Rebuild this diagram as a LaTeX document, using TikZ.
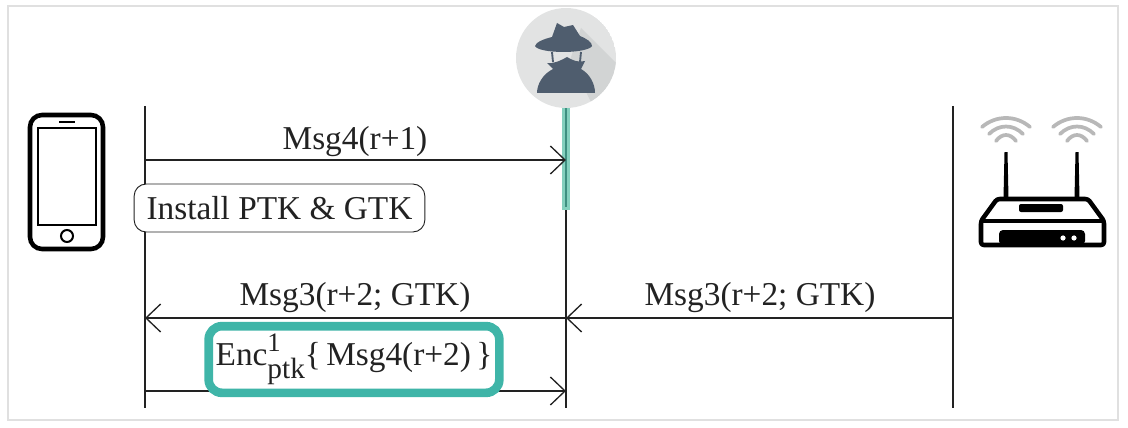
\documentclass[tikz,border=0pt]{standalone}
\usepackage{fontspec}
\setmainfont{Liberation Serif}
\usetikzlibrary{arrows.meta}
\definecolor{inkdark}{HTML}{222222}
\definecolor{tealbox}{HTML}{3FB5A8}
\definecolor{tealbar}{HTML}{84D0BE}
\definecolor{tealcore}{HTML}{3E8F80}
\definecolor{spyslate}{HTML}{4F5D6E}
\definecolor{spydisc}{HTML}{E2E3E3}
\definecolor{spyshade}{HTML}{D2D4D4}
\definecolor{wifigray}{HTML}{B8B8B8}
\begin{document}
\begin{tikzpicture}[x=0.75pt,y=-0.75pt,
	msg/.style={font=\fontsize{25}{30}\selectfont, text=inkdark, inner sep=0pt},
	life/.style={draw=inkdark, line width=1.6pt},
	flow/.style={draw=inkdark, line width=1.4pt, -{Straight Barb[length=11pt,width=21pt,line width=1pt]}},
	state/.style={msg, draw=inkdark, fill=white, line width=0.7pt, rounded corners=9pt, minimum width=218pt, minimum height=36pt},
	enc/.style={msg, draw=tealbox, fill=white, line width=6.5pt, rounded corners=10pt, minimum width=218pt, minimum height=50pt},
	>=latex]
	\useasboundingbox (0,0) rectangle (1128,428);
	\draw[draw=black!12, line width=1.2pt] (8,6) rectangle (1118,420);

	% lifelines
	\coordinate (phonetop) at (145,106);
	\coordinate (phoneend) at (145,408);
	\coordinate (spytop) at (566,108);
	\coordinate (spymid) at (566,207);
	\coordinate (spyend) at (566,408);
	\coordinate (aptop) at (953,106);
	\coordinate (apend) at (953,408);
	\draw[life] (phonetop) -- (phoneend);
	\draw[life] (aptop) -- (apend);
	\draw[life, line width=2.2pt] (spymid) -- (spyend);
	\fill[tealbar] (562,108) rectangle (570,210);
	\draw[draw=tealcore, line width=2.2pt] (spytop) -- (spymid);

	% messages
	\coordinate (phonea) at (145,160);
	\coordinate (spya) at (566,160);
	\coordinate (phoneb) at (145,318);
	\coordinate (spyb) at (566,318);
	\coordinate (apb) at (953,318);
	\coordinate (phonec) at (145,391);
	\coordinate (spyc) at (566,391);
	\draw[flow] (phonea) -- (spya);
	\draw[flow] (spyb) -- (phoneb);
	\draw[flow] (apb) -- (spyb);
	\draw[flow] (phonec) -- (spyc);
	\node[msg] (msgone) at (355,142) {Msg4(r+1)};
	\node[state] (install) at (279.5,208) {Install PTK \& GTK};
	\node[msg] (msgtwo) at (355,298) {Msg3(r+2; GTK)};
	\node[msg] (msgthree) at (760,298) {Msg3(r+2; GTK)};
	\node[enc] (enclabel) at (354,359.5) {Enc\rlap{\raisebox{10pt}{\fontsize{20}{24}\selectfont 1}}\raisebox{-10pt}{\fontsize{22}{24}\selectfont ptk}\{\hspace{4pt}Msg4(r+2)\hspace{4pt}\}};

	% phone
	\draw[line width=3.4pt, rounded corners=9pt] (30,115) rectangle (103,249);
	\draw[line width=1.5pt] (38,128) rectangle (96,225);
	\draw[line width=1.3pt] (59,122) -- (75,122);
	\draw[line width=1.5pt] (67,236) circle (6);

	% spy
	\begin{scope}
		\clip (566,58) circle (50);
		\fill[spydisc] (566,58) circle (50);
		\fill[spyshade] (581,28) -- (640,87) -- (600,120) -- (570,60) -- cycle;
	\end{scope}
	\fill[spyslate] (557,23) -- (564,27) -- (573,25) -- (580,36) .. controls (587,39) and (592,42) .. (592,46)
		.. controls (590,50) and (575,52) .. (564,52) .. controls (550,52) and (537,50) .. (535,46)
		.. controls (536,42) and (544,39) .. (552,37) -- cycle;
	\fill[spyslate] (567,57) .. controls (572,60) and (578,63) .. (585,61) -- (581,69)
		.. controls (590,74) and (595,84) .. (595,93) -- (537,93)
		.. controls (537,84) and (543,74) .. (553,69) -- (547,63) .. controls (553,64) and (560,61) .. (567,57) -- cycle;
	\draw[spyslate, line width=1.4pt] (552,52) -- (553,62);
	\draw[spyslate, line width=1.4pt] (581,52) -- (580,62);

	% router
	\foreach \ax in {1006,1077} {
		\fill (\ax-1.5,152) -- (\ax+1.5,152) -- (\ax+2.5,198) -- (\ax-2.5,198) -- cycle;
		\begin{scope}[draw=wifigray, line width=2.8pt, line cap=round]
			\draw (\ax-24,127) .. controls (\ax-10,115) and (\ax+10,115) .. (\ax+24,127);
			\draw (\ax-17,134) .. controls (\ax-7,124) and (\ax+7,124) .. (\ax+17,134);
			\draw (\ax-10,141) .. controls (\ax-4,133) and (\ax+4,133) .. (\ax+10,141);
		\end{scope}
	}
	\draw[line width=3.4pt, line join=round, rounded corners=2pt] (997,199) -- (1088,199) -- (1104,221) -- (1104,245) -- (981,245) -- (981,221) -- cycle;
	\draw[line width=3.4pt] (981,221) -- (1104,221);
	\fill[rounded corners=1.5pt] (1019,204) rectangle (1063,212);
	\fill[rounded corners=3pt] (999,245) -- (999,230) -- (1085,230) -- (1085,245) -- cycle;
	\fill[white] (1063,238) circle (2.6) (1074,238) circle (2.6);
\end{tikzpicture}
\end{document}
